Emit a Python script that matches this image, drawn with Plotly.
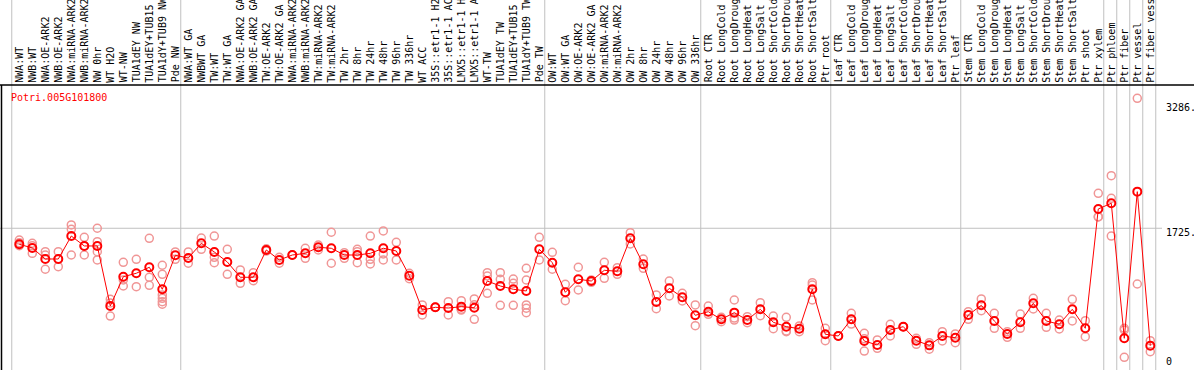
import plotly.graph_objects as go

labels = [
    "NWA:WT", "NWB:WT", "NWA:OE-ARK2", "NWB:OE-ARK2", "NWA:miRNA-ARK2", "NWB:miRNA-ARK2",
    "NW 0hr", "WT H2O", "WT-NW", "TUA1dEY NW", "TUA1dEY+TUB15", "TUA1dY+TUB9 NW", "Pde NW",
    "NWA:WT GA", "NWBWT GA", "TW:WT", "TW:WT GA", "NWA:OE-ARK2 GA", "NWB:OE-ARK2 GA",
    "TW:OE-ARK2", "TW:OE-ARK2 GA", "NWA:miRNA-ARK2", "NWB:miRNA-ARK2", "TW:miRNA-ARK2",
    "TW:miRNA-ARK2", "TW 2hr", "TW 8hr", "TW 24hr", "TW 48hr", "TW 96hr", "TW 336hr",
    "WT ACC", "35S::etr1-1 H2", "35S::etr1-1 AC", "LMX5::etr1-1 H", "LMX5::etr1-1 A",
    "WT-TW", "TUA1dEY TW", "TUA1dEY+TUB15", "TUA1dY+TUB9 TW", "Pde TW",
    "OW:WT", "OW:WT GA", "OW:OE-ARK2", "OW:OE-ARK2 GA", "OW:miRNA-ARK2", "OW:miRNA-ARK2",
    "OW 2hr", "OW 8hr", "OW 24hr", "OW 48hr", "OW 96hr", "OW 336hr",
    "Root CTR", "Root LongCold", "Root LongDroug", "Root LongHeat", "Root LongSalt",
    "Root ShortCold", "Root ShortDrou", "Root ShortHeat", "Root ShortSalt", "Ptr root",
    "Leaf CTR", "Leaf LongCold", "Leaf LongDroug", "Leaf LongHeat", "Leaf LongSalt",
    "Leaf ShortCold", "Leaf ShortDrou", "Leaf ShortHeat", "Leaf ShortSalt", "Ptr leaf",
    "Stem CTR", "Stem LongCold", "Stem LongDroug", "Stem LongHeat", "Stem LongSalt",
    "Stem ShortCold", "Stem ShortDrou", "Stem ShortHeat", "Stem ShortSalt", "Ptr shoot",
    "Ptr xylem", "Ptr phloem", "Ptr fiber", "Ptr vessel", "Ptr fiber vess",
]

means = [
    1525, 1479, 1341, 1341, 1628, 1504, 1504, 754, 1120, 1163, 1238, 963, 1387,
    1354, 1537, 1429, 1304, 1113, 1113, 1454, 1329, 1391, 1412, 1487, 1475, 1391,
    1391, 1412, 1475, 1441, 1133, 704, 738, 729, 746, 733, 1066, 1004, 963, 942, 1462,
    1295, 925, 1088, 1066, 1200, 1188, 1600, 1275, 804, 975, 863, 638,
    683, 588, 671, 579, 713, 551, 496, 471, 963, 401,
    380, 588, 317, 267, 455, 496, 321, 263, 380, 358,
    642, 763, 567, 405, 551, 788, 567, 526, 713, 476, 1966,
    2037, 351, 2182, 259,
]

replicates = [
    [1578, 1545, 1507], [1537, 1507, 1412], [1432, 1391, 1213], [1432, 1341, 1245],
    [1766, 1712, 1391], [1612, 1504, 1391], [1725, 1557, 1432, 1329], [838, 792, 629],
    [1300, 1079, 1004], [1337, 995], [1600, 1113, 1013], [1263, 1150, 892, 850, 808, 776],
    [1429, 1337],
    [1429, 1288], [1603, 1462], [1628, 1362, 1295], [1462, 1150], [1204, 1038],
    [1170, 1070], [1440, 1468], [1362, 1288], [1391, 1391], [1475, 1350], [1516, 1454],
    [1675, 1288], [1420, 1350], [1462, 1432, 1295], [1628, 1337, 1279], [1691, 1404, 1329],
    [1550, 1329], [1163, 1095], [767, 642], [738, 738], [808, 642], [820, 704, 714],
    [842, 588, 770], [1170, 1129, 913], [1170, 1088, 763], [1091, 1038, 763],
    [1225, 1079, 767, 726, 671], [1612, 1329],
    [1425, 1213], [1025, 820], [1238, 954], [1050, 1080], [1300, 1100], [1233, 1150],
    [1670, 1529], [1341, 1225], [892, 721], [1066, 879], [913, 817], [767, 508],
    [754, 651], [613, 558], [829, 604, 579], [621, 546], [795, 633], [629, 471],
    [613, 433, 443], [505, 433], [1045, 1015, 829], [476, 321],
    [380, 380], [663, 529], [413, 192, 346], [330, 226], [526, 380], [496, 496],
    [351, 276], [296, 214], [433, 317], [405, 296],
    [683, 588], [842, 696], [663, 476], [433, 363], [654, 476], [850, 717], [663, 488],
    [579, 467], [838, 567], [571, 371], [2162, 1869, 1867],
    [2381, 2099, 1628], [476, 455, 114], [3348, 1029], [321, 184],
]

group_ends = [0, 13, 41, 53, 63, 73, 84, 85, 86, 87, 88]
axis_marks = [3286, 1725, 0]
gene_name = "Potri.005G101800"

W, H, TOP = 1194, 370, 85
Y_RANGE = [-45, 3514]
X_RANGE = [-0.4846, 91.362]
FONT = "DejaVu Sans Mono"

xs = list(range(1, len(labels) + 1))
rx, ry = [], []
for x, reps in zip(xs, replicates):
    for r in reps:
        rx.append(x)
        ry.append(r)

fig = go.Figure()
fig.add_trace(go.Scatter(
    x=rx, y=ry, mode="markers",
    marker=dict(symbol="circle-open", size=8, color="rgb(240,150,150)", line=dict(width=1.5)),
    hoverinfo="skip", showlegend=False,
))
fig.add_trace(go.Scatter(
    x=xs, y=means, mode="lines+markers",
    line=dict(color="red", width=1),
    marker=dict(symbol="circle-open", size=8, color="red", line=dict(width=2)),
    showlegend=False,
))

shapes = []
plot_h = H - TOP
top_paper = H / plot_h
for g in group_ends:
    shapes.append(dict(type="line", xref="x", yref="paper", x0=g + 0.42, x1=g + 0.42,
                       y0=0, y1=top_paper, line=dict(color="rgb(192,192,192)", width=1),
                       layer="below"))
shapes.append(dict(type="line", xref="paper", yref="y", x0=0, x1=1162 / W,
                   y0=1725, y1=1725, line=dict(color="rgb(192,192,192)", width=1), layer="below"))
shapes.append(dict(type="line", xref="paper", yref="paper", x0=0, x1=1,
                   y0=1, y1=1, line=dict(color="black", width=1.5)))
shapes.append(dict(type="line", xref="paper", yref="paper", x0=1.5 / W, x1=1.5 / W,
                   y0=0, y1=1, line=dict(color="black", width=1.5)))

annotations = []
for x, lab in zip(xs, labels):
    annotations.append(dict(x=x, y=1 + 1.5 / plot_h, xref="x", yref="paper", text=lab,
                            showarrow=False, textangle=-90, xanchor="center", yanchor="bottom",
                            font=dict(family=FONT, size=10, color="black"), borderpad=0))
annotations.append(dict(x=9 / W, y=(H - 97) / plot_h, xref="paper", yref="paper", text=gene_name,
                        showarrow=False, xanchor="left", yanchor="middle",
                        font=dict(family=FONT, size=10, color="red")))
for v in axis_marks:
    shift = -4 if v > 0 else 4.7
    txt = f"{v}." if v > 0 else "0"
    annotations.append(dict(x=1164 / W, y=v, xref="paper", yref="y", text=txt, yshift=shift,
                            showarrow=False, xanchor="left", yanchor="middle",
                            font=dict(family=FONT, size=10, color="black")))

fig.update_layout(
    width=W, height=H, autosize=False,
    margin=dict(l=0, r=0, t=TOP, b=0, pad=0),
    paper_bgcolor="white", plot_bgcolor="white",
    xaxis=dict(range=X_RANGE, showgrid=False, zeroline=False, showticklabels=False,
               showline=False, fixedrange=True),
    yaxis=dict(range=Y_RANGE, showgrid=False, zeroline=False, showticklabels=False,
               showline=False, fixedrange=True),
    shapes=shapes, annotations=annotations,
)
fig.write_html(
    "out.html",
    config={"displayModeBar": False},
    post_script="document.body.style.margin='0';document.body.style.overflow='hidden';",
)
